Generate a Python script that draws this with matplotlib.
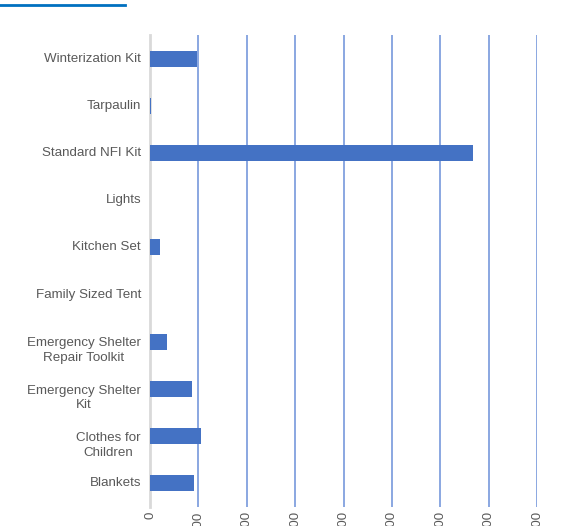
import numpy as np
import matplotlib.pyplot as plt
from matplotlib.lines import Line2D
from matplotlib import transforms

categories = ['Blankets', 'Clothes for\nChildren', 'Emergency Shelter\nKit',
              'Emergency Shelter\nRepair Toolkit', 'Family Sized Tent',
              'Kitchen Set', 'Lights', 'Standard NFI Kit', 'Tarpaulin',
              'Winterization Kit']
values = [91, 106, 86, 36, 0, 21, 0, 668, 3, 97]
xticks = [0, 100, 200, 300, 400, 500, 600, 700, 800]

plt.rcParams['font.family'] = ['Liberation Sans', 'DejaVu Sans']

fig = plt.figure(figsize=(5.73, 5.26), dpi=100)
ax = fig.add_axes([0.2618, 0.0361, 0.6754, 0.8974])

y = np.arange(len(categories))
ax.barh(y, values, height=0.34, color='#4472C4', zorder=3)

ax.set_xlim(0, 800)
ax.set_ylim(-0.5, len(categories) - 0.5)
ax.set_yticks(y)
ax.set_yticklabels([])
ax.tick_params(axis='y', length=0)

# category labels: multi-line ones sit a bit lower, like the source
base = transforms.blended_transform_factory(ax.transAxes, ax.transData)
for yi, lab in zip(y, categories):
    dy = -9 / 100 if '\n' in lab else 0
    tr = base + transforms.ScaledTranslation(-9 / 100, dy, fig.dpi_scale_trans)
    ax.text(0, yi, lab, transform=tr, ha='right', va='center',
            multialignment='center', linespacing=1.3,
            fontsize=9.6, color='#595959')

ax.set_xticks(xticks)
ax.set_xticklabels([str(v) for v in xticks], rotation=90, fontsize=9.5, color='#595959')
ax.tick_params(axis='x', length=0, pad=3)

for v in xticks[1:]:
    ax.axvline(v, color='#6B8FD8', lw=1.1, zorder=1)

for s in ['top', 'right', 'bottom']:
    ax.spines[s].set_visible(False)
ax.spines['left'].set_color('#D9D9D9')
ax.spines['left'].set_linewidth(2)

# decorative header line
fig.add_artist(Line2D([0, 125 / 573], [1 - 4.5 / 526, 1 - 4.5 / 526],
                      color='#0070C0', lw=2, transform=fig.transFigure))

fig.savefig('out.png', dpi=100)
